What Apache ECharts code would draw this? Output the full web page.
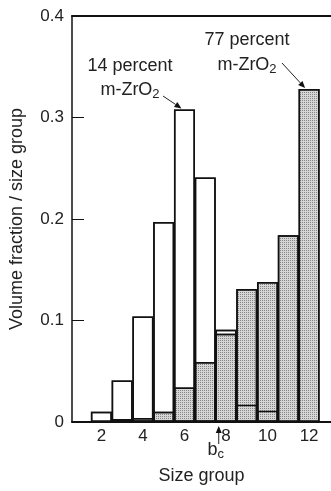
<!DOCTYPE html>
<html>
<head>
<meta charset="utf-8">
<script src="https://cdn.jsdelivr.net/npm/echarts@6/dist/echarts.min.js"></script>
<style>
  html, body { margin: 0; padding: 0; background: #fff; }
  #chart { width: 331px; height: 491px; }
</style>
</head>
<body>
<div id="chart"></div>
<script>
// size groups and volume fraction per group
const groups = [2, 3, 4, 5, 6, 7, 8, 9, 10, 11, 12];
const low = [0.010, 0.041, 0.104, 0.197, 0.308, 0.241, 0.091, 0.017, 0.011, 0, 0];   // 14 percent m-ZrO2
const high = [0, 0.003, 0.004, 0.010, 0.034, 0.059, 0.087, 0.131, 0.138, 0.184, 0.328]; // 77 percent m-ZrO2
const xTicks = [2, 4, 6, 8, 10, 12];
const bcPos = 7.65; // b_c marker on the size axis

const FONT = '"Liberation Sans", Arial, sans-serif';
const pairs = vals => groups.map((g, i) => [g, vals[i]]).filter(p => p[1] > 0);

const chart = echarts.init(document.getElementById('chart'), null, {renderer: 'canvas'});

const xMin = 0.585, xMax = 13.055;

const option = {
  animation: false,
  grid: {left: 71, right: 0, top: 16, bottom: 69},
  xAxis: [
    {
      type: 'value',
      min: xMin,
      max: xMax,
      axisLine: {show: true, lineStyle: {color: '#111', width: 2}},
      axisTick: {show: false},
      splitLine: {show: false},
      axisLabel: {
        customValues: xTicks,
        color: '#222',
        fontSize: 17,
        fontFamily: FONT,
        margin: 6,
      },
      name: 'Size group',
      nameLocation: 'middle',
      nameGap: 45,
      nameTextStyle: {color: '#222', fontSize: 18, fontFamily: FONT},
    },
    {
      // top frame line
      type: 'value',
      position: 'top',
      min: xMin,
      max: xMax,
      axisLine: {show: true, onZero: false, lineStyle: {color: '#111', width: 2}},
      axisTick: {show: false},
      axisLabel: {show: false},
      splitLine: {show: false},
    },
  ],
  yAxis: {
    type: 'value',
    min: 0,
    max: 0.4,
    interval: 0.1,
    axisLine: {show: true, lineStyle: {color: '#111', width: 1.5}},
    axisTick: {show: true, inside: true, length: 12, lineStyle: {color: '#111', width: 1}},
    splitLine: {show: false},
    axisLabel: {
      color: '#222',
      fontSize: 17,
      fontFamily: FONT,
      margin: 8,
      formatter: v => (v === 0 ? '0' : v.toFixed(1)),
    },
    name: 'Volume fraction / size group',
    nameLocation: 'middle',
    nameGap: 46,
    nameTextStyle: {color: '#222', fontSize: 18, fontFamily: FONT},
  },
  series: [
    {
      name: '14 percent m-ZrO2',
      type: 'bar',
      data: pairs(low),
      barWidth: 21,
      barGap: '-100%',
      itemStyle: {color: '#fff', borderColor: '#111', borderWidth: 1.5},
      z: 2,
    },
    {
      name: '77 percent m-ZrO2',
      type: 'bar',
      data: pairs(high),
      barWidth: 21,
      barGap: '-100%',
      itemStyle: {
        color: '#d6d6d6',
        borderColor: '#111',
        borderWidth: 1.5,
        decal: {
          symbol: 'rect',
          symbolSize: 1,
          dashArrayX: [1, 1],
          dashArrayY: [1, 1],
          color: 'rgba(50,50,50,0.5)',
          rotation: 0,
        },
      },
      z: 3,
    },
    {
      // outline of the 14 percent bars drawn on top of the shaded ones
      name: '14 percent outline',
      type: 'bar',
      data: pairs(low),
      barWidth: 21,
      barGap: '-100%',
      itemStyle: {color: 'rgba(0,0,0,0)', borderColor: '#111', borderWidth: 1.5},
      silent: true,
      z: 4,
    },
  ],
};

chart.setOption(option);

// annotations, anchored to the bar tops through the axes
const tip1 = chart.convertToPixel({gridIndex: 0}, [6, low[4]]);
const tip2 = chart.convertToPixel({gridIndex: 0}, [12, high[10]]);
const base = chart.convertToPixel({gridIndex: 0}, [bcPos, 0]);

const textStyle = {fill: '#222', fontSize: 18, fontFamily: FONT, align: 'center'};
const rich = {sub: {fontSize: 13, fontFamily: FONT, fill: '#222', verticalAlign: 'bottom', padding: [9, 0, 0, 0]}};

function arrow(x1, y1, x2, y2) {
  const ang = Math.atan2(y2 - y1, x2 - x1);
  const L = 7, W = 3;
  const bx = x2 - L * Math.cos(ang), by = y2 - L * Math.sin(ang);
  const px = -Math.sin(ang) * W, py = Math.cos(ang) * W;
  return [
    {type: 'line', shape: {x1, y1, x2: bx, y2: by}, style: {stroke: '#222', lineWidth: 1}, z: 10},
    {type: 'polygon', shape: {points: [[x2, y2], [bx + px, by + py], [bx - px, by - py]]}, style: {fill: '#111'}, z: 10},
  ];
}

chart.setOption({
  graphic: [
    {type: 'text', x: 130, y: 57, style: Object.assign({text: '14 percent'}, textStyle), z: 10},
    {type: 'text', x: 130, y: 79, style: Object.assign({text: 'm-ZrO{sub|2}', rich}, textStyle), z: 10},
    {type: 'text', x: 247, y: 31, style: Object.assign({text: '77 percent'}, textStyle), z: 10},
    {type: 'text', x: 247, y: 54, style: Object.assign({text: 'm-ZrO{sub|2}', rich}, textStyle), z: 10},
    ...arrow(163, 96, tip1[0] - 3, tip1[1] - 1),
    ...arrow(282, 63, tip2[0] - 4, tip2[1] - 1),
    ...arrow(base[0], base[1] + 22, base[0], base[1] + 4),
    {type: 'text', x: base[0] - 3, y: base[1] + 17, style: Object.assign({text: 'b{sub|c}', rich}, textStyle), z: 10},
  ],
});
</script>
</body>
</html>
